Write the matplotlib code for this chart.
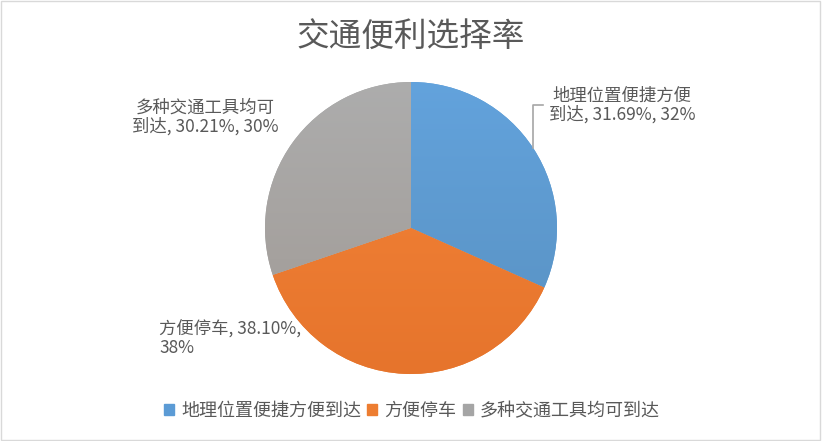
import numpy as np
import matplotlib.pyplot as plt
from matplotlib.colors import LinearSegmentedColormap, to_rgb
from matplotlib.patches import Rectangle

plt.rcParams['font.family'] = ['Noto Sans CJK SC', 'DejaVu Sans']

# data
title = "交通便利选择率"
categories = ["地理位置便捷方便到达", "方便停车", "多种交通工具均可到达"]
shares = [31.69, 38.10, 30.21]
colors = ["#5B9BD5", "#ED7D31", "#A5A5A5"]
text_color = "#595959"

W, H = 822, 441
fig = plt.figure(figsize=(W / 100, H / 100), dpi=100)

# pie axes, centre ~(411, 228) px, radius ~146 px
cx, cy, r = 411, 228, 146
ax = fig.add_axes([(cx - r) / W, (H - cy - r) / H, 2 * r / W, 2 * r / H])
wedges, _ = ax.pie(shares, colors=colors, startangle=90, counterclock=False,
                   radius=1.0, wedgeprops=dict(linewidth=0))

# light-to-dark vertical gradient in each slice, like the Excel style
grad = np.linspace(0, 1, 256).reshape(-1, 1)
for w, c in zip(wedges, colors):
    base = np.array(to_rgb(c))
    top = np.clip(base + 0.03, 0, 1)
    bottom = base * np.array([0.97, 0.93, 0.9])
    cmap = LinearSegmentedColormap.from_list("g", [bottom, top])
    im = ax.imshow(grad, cmap=cmap, extent=(-1, 1, -1, 1), origin="lower",
                   aspect="auto", zorder=2)
    im.set_clip_path(w)

ax.set_xlim(-1, 1)
ax.set_ylim(-1, 1)
ax.set_aspect("equal")
ax.axis("off")

fig.text(cx / W, 1 - 38 / H, title, ha="center", va="center",
         fontsize=23.5, color=text_color)


def px(x, y):
    return x / W, 1 - y / H


labels = [f"{c}, {v:.2f}%, {round(v)}%" for c, v in zip(categories, shares)]
fs = 12.5

# blue label
fig.text(*px(622, 105), "地理位置便捷方便\n" + labels[0][8:], ha="center", va="center",
         fontsize=fs, color=text_color, linespacing=1.05)
# orange label
fig.text(*px(159, 339), labels[1][:len("方便停车, 38.10%,")] + "\n" +
         labels[1][len("方便停车, 38.10%, "):], ha="left", va="center",
         fontsize=fs, color=text_color, linespacing=1.05)
# gray label
fig.text(*px(205, 117), "多种交通工具均可\n" + labels[2][8:], ha="center", va="center",
         fontsize=fs, color=text_color, linespacing=1.05)

# leader line for blue label
fig.add_artist(plt.Line2D([533 / W, 533 / W, 543 / W],
                          [1 - 148 / H, 1 - 105 / H, 1 - 105 / H],
                          color="#A6A6A6", linewidth=1.2))

handles = [Rectangle((0, 0), 1, 1, color=c) for c in colors]
fig.legend(handles, categories, loc="center", bbox_to_anchor=px(412, 411), ncol=3,
           frameon=False, fontsize=13, labelcolor=text_color,
           handlelength=0.55, handleheight=0.55, handletextpad=0.4, columnspacing=0.35)

# chart border
fig.add_artist(Rectangle((0.001, 0.002), 0.997, 0.995, transform=fig.transFigure,
                         fill=False, edgecolor="#D9D9D9", linewidth=1))

fig.savefig("out.png", dpi=100)
